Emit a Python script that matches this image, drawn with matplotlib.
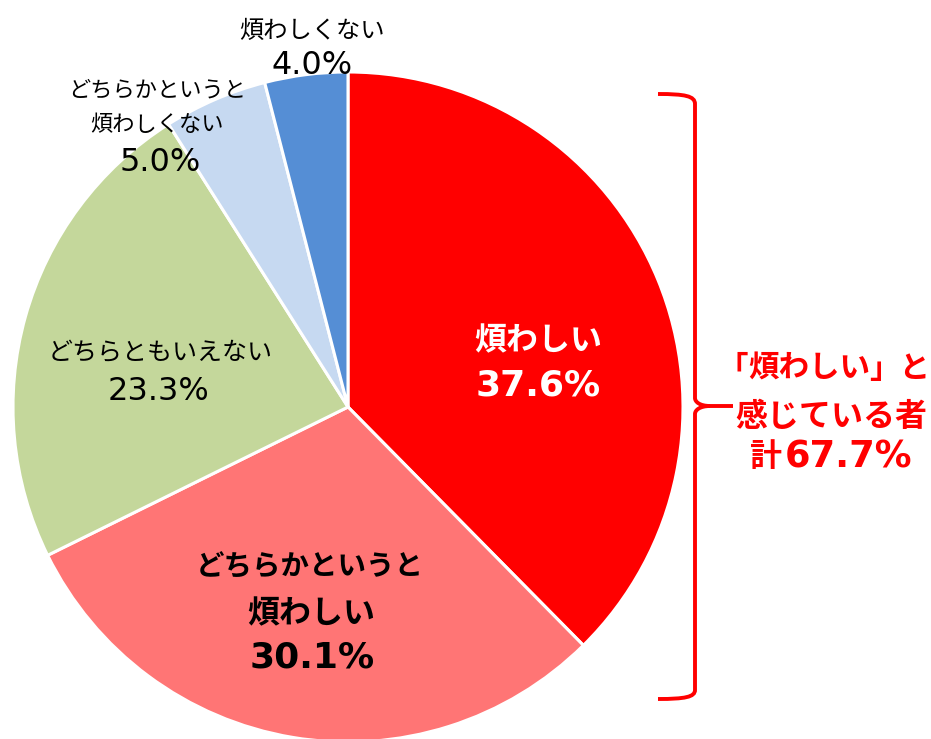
import matplotlib
matplotlib.use("Agg")
import matplotlib.pyplot as plt
from matplotlib.path import Path
from matplotlib.patches import PathPatch

JP = ['Noto Sans CJK JP', 'DejaVu Sans']
NUM = ['DejaVu Sans', 'Noto Sans CJK JP']
plt.rcParams['font.family'] = JP

categories = ["煩わしい", "どちらかというと\n煩わしい", "どちらともいえない",
              "どちらかというと\n煩わしくない", "煩わしくない"]
values = [37.6, 30.1, 23.3, 5.0, 4.0]
colors = ["#FF0000", "#FF7575", "#C4D79B", "#C6D9F1", "#558ED5"]
total_lines = ["「", "煩わしい", "」と", "感じている者", "計", "67.7%"]

W, H = 931, 739
fig = plt.figure(figsize=(W / 100, H / 100), dpi=100)
ax = fig.add_axes([0, 0, 1, 1])


def Y(py):
    return H - py


cx, cy, r = 348, Y(407), 335
ax.pie(values, colors=colors, startangle=90, counterclock=False,
       center=(cx, cy), radius=r, frame=True,
       wedgeprops=dict(edgecolor='white', linewidth=2.2))
ax.set_xlim(0, W)
ax.set_ylim(0, H)
ax.set_aspect('equal')
ax.axis('off')


def put(x, y, s, size, family, bold=False, color='black', ha='center'):
    ax.text(x, Y(y), s, ha=ha, va='baseline', fontsize=size, family=family,
            fontweight='bold' if bold else 'normal', color=color)


# small labels: name lines + percentage
def small_label(x, ys, idx, size, xp=None):
    lines = categories[idx].split("\n")
    for ln, yy in zip(lines, ys[:-1]):
        put(x, yy, ln, size, JP)
    put(xp if xp else x, ys[-1], f"{values[idx]:.1f}%", 23, NUM)


small_label(312, [38, 74], 4, 17.5, 312)
small_label(157, [97, 131, 171], 3, 16, 160)
small_label(160, [360, 400], 2, 18, 159)

# bold labels
l1 = categories[0].split("\n")
put(538, 350, l1[0], 23, JP, True, 'white')
put(538, 395, f"{values[0]:.1f}%", 26, NUM, True, 'white')

l2 = categories[1].split("\n")
put(310, 575, l2[0], 20.5, JP, True, 'black')
put(311, 623, l2[1], 23, JP, True, 'black')
put(312, 668, f"{values[1]:.1f}%", 26, NUM, True, 'black')

# brace
verts = [
    (658, Y(94)), (685, Y(94)), (695, Y(96)), (695, Y(104)),
    (695, Y(398)),
    (695, Y(402)), (700, Y(406)), (710, Y(406)),
    (733, Y(406)),
]
codes = [Path.MOVETO, Path.CURVE4, Path.CURVE4, Path.CURVE4,
         Path.LINETO,
         Path.CURVE4, Path.CURVE4, Path.CURVE4,
         Path.LINETO]
verts2 = [
    (710, Y(406)), (700, Y(406)), (695, Y(410)), (695, Y(414)),
    (695, Y(690)),
    (695, Y(697)), (685, Y(699)), (658, Y(699)),
]
codes2 = [Path.MOVETO, Path.CURVE4, Path.CURVE4, Path.CURVE4,
          Path.LINETO,
          Path.CURVE4, Path.CURVE4, Path.CURVE4]
for v, c in ((verts, codes), (verts2, codes2)):
    ax.add_patch(PathPatch(Path(v, c), facecolor='none', edgecolor='#FF0000',
                           linewidth=2.8, capstyle='butt'))

# total text (red)
RED = '#FF0000'
put(748, 378, total_lines[0], 22, JP, True, RED, ha='right')
put(809, 378, total_lines[1], 22, JP, True, RED)
put(930.5, 378, total_lines[2], 22, JP, True, RED, ha='right')
put(831, 426, total_lines[3], 23, JP, True, RED)
put(766, 466, total_lines[4], 23, JP, True, RED)
put(785, 468, total_lines[5], 26.5, NUM, True, RED, ha='left')

fig.savefig("out.png", dpi=100)
